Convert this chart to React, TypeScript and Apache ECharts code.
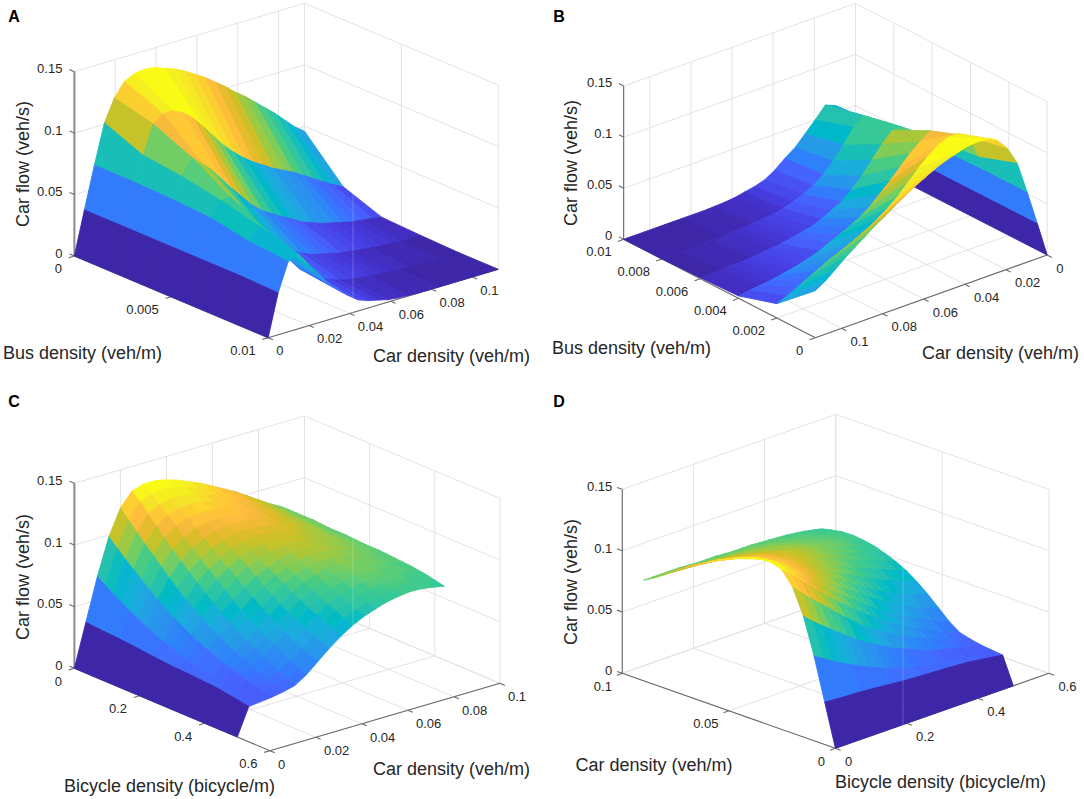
import React, { useEffect, useRef } from "react";
import * as echarts from "echarts";

// ---------- data ----------
const busDensity = [0, 0.002, 0.004, 0.006, 0.008, 0.01];
const carDensityBus = [0, 0.0049, 0.0098, 0.0147, 0.0196, 0.0245, 0.0294, 0.0343, 0.0392, 0.0441, 0.049, 0.0539, 0.0588, 0.0637, 0.0686, 0.0735, 0.0784, 0.0833, 0.0882, 0.0931, 0.098, 0.1029, 0.1078, 0.1127];
const flowBus0 = [0, .035, .069, .101, .119, .130, .134, .135, .134, .131, .128, .124, .119, .114, .108, .102, .095, .089, .082, .075, .068, .060, .052, .046];
const flowBus2 = [0, .035, .069, .088, .111, .117, .117, .113, .106, .097, .087, .077, .069, .062, .056, .051, .046, .042, .038, .033, .028, .023, .018, .014];
const flowBus4 = [0, .035, .068, .084, .097, .090, .082, .072, .062, .053, .044, .037, .032, .027, .023, .018, .015, .012, .010, .008, .006, .005, .004, .0024];
const flowBus6 = [0, .035, .066, .078, .078, .068, .056, .044, .034, .026, .021, .016, .012, .010, .008, .006, .005, .004, .003, .002, .002, .001, .001, .001];
const flowBus8 = [0, .035, .060, .070, .062, .048, .036, .026, .019, .014, .010, .007, .005, .004, .003, .002, .002, .001, .001, .001, 0, 0, 0, 0];
const flowBus10 = [0, .034, .057, .061, .050, .040, .030, .023, .015, .009, .006, .004, .002, .001, .0005, 0, 0, 0, 0, 0, 0, 0, 0, 0];
const busFlow = [flowBus0, flowBus2, flowBus4, flowBus6, flowBus8, flowBus10];

const bicycleDensity = [0, .025, .05, .075, .1, .125, .15, .175, .2, .225, .25, .275, .3, .325, .35, .375, .4, .425, .45, .475, .5];
const carDensityBike = [0, .005, .01, .015, .02, .025, .03, .035, .04, .045, .05, .055, .06, .065, .07, .075, .08, .085, .09];
const flowBike000 = [0, .0346, .069, .0986, .119, .130, .133, .133, .131, .128, .124, .120, .115, .110, .105, .099, .093, .087, .082];
const flowBike025 = [0, .034, .0645, .092, .112, .124, .128, .129, .128, .125, .122, .118, .114, .109, .104, .0985, .0925, .087, .082];
const flowBike050 = [0, .0335, .060, .086, .105, .117, .122, .124, .124, .122, .119, .116, .112, .108, .103, .098, .092, .087, .082];
const flowBike075 = [0, .0331, .056, .0805, .0985, .110, .116, .119, .120, .1185, .1165, .114, .1105, .1065, .102, .097, .0915, .0865, .082];
const flowBike100 = [0, .0327, .052, .075, .092, .103, .110, .114, .115, .115, .114, .112, .109, .105, .101, .096, .091, .086, .082];
const flowBike125 = [0, .0321, .0485, .0695, .0855, .0965, .104, .1085, .1105, .1115, .111, .1095, .107, .1035, .100, .0955, .0905, .0855, .0815];
const flowBike150 = [0, .0315, .045, .064, .079, .090, .098, .103, .106, .108, .108, .107, .105, .102, .099, .095, .090, .085, .081];
const flowBike175 = [0, .0308, .0418, .0595, .073, .084, .092, .0975, .1015, .104, .105, .1045, .103, .1005, .0975, .094, .0895, .085, .081];
const flowBike200 = [0, .0300, .0387, .055, .067, .078, .086, .092, .097, .100, .102, .102, .101, .099, .096, .093, .089, .085, .081];
const flowBike225 = [0, .0294, .0363, .051, .0625, .0725, .0805, .087, .0925, .096, .0985, .0995, .099, .0975, .0945, .092, .0885, .0845, .0805];
const flowBike250 = [0, .0288, .034, .047, .058, .067, .075, .082, .088, .092, .095, .097, .097, .096, .093, .091, .088, .084, .080];
const flowBike275 = [0, .0284, .032, .044, .0535, .062, .0695, .077, .083, .088, .0915, .094, .0945, .094, .092, .090, .087, .0835, .080];
const flowBike300 = [0, .0280, .030, .041, .049, .057, .064, .072, .078, .084, .088, .091, .092, .092, .091, .089, .086, .083, .080];
const flowBike325 = [0, .0276, .0285, .038, .0455, .0525, .0595, .067, .0735, .080, .0845, .088, .0895, .090, .089, .0875, .085, .0825, .0795];
const flowBike350 = [0, .0272, .027, .035, .042, .048, .055, .062, .069, .076, .081, .085, .087, .088, .087, .086, .084, .082, .079];
const flowBike375 = [0, .0267, .0258, .033, .039, .0445, .051, .058, .065, .0725, .078, .082, .0845, .086, .0855, .0845, .083, .081, .0785];
const flowBike400 = [0, .0262, .0245, .031, .036, .041, .047, .054, .061, .069, .075, .079, .082, .084, .084, .083, .082, .080, .078];
const flowBike425 = [0, .0252, .024, .029, .033, .0375, .0435, .0505, .058, .066, .072, .076, .079, .0815, .082, .0815, .0805, .079, .077];
const flowBike450 = [0, .0242, .0235, .027, .030, .034, .040, .047, .055, .063, .069, .073, .076, .079, .080, .080, .079, .078, .076];
const flowBike475 = [0, .0231, .0233, .0255, .0278, .031, .037, .0445, .0525, .060, .066, .0703, .0735, .0765, .0778, .0784, .0778, .0765, .0745];
const flowBike500 = [0, .0220, .023, .024, .0257, .028, .034, .042, .050, .057, .063, .0676, .071, .074, .0757, .0768, .0765, .075, .073];
const bikeFlow = [flowBike000, flowBike025, flowBike050, flowBike075, flowBike100, flowBike125, flowBike150, flowBike175, flowBike200, flowBike225, flowBike250, flowBike275, flowBike300, flowBike325, flowBike350, flowBike375, flowBike400, flowBike425, flowBike450, flowBike475, flowBike500];

const flowTicks = [0, 0.05, 0.1, 0.15];
const busTicksCoarse = [0, 0.005, 0.01];
const busTicksFine = [0, 0.002, 0.004, 0.006, 0.008, 0.01];
const carTicks = [0, 0.02, 0.04, 0.06, 0.08, 0.1];
const carTicksCoarse = [0, 0.05, 0.1];
const bicycleTicks = [0, 0.2, 0.4, 0.6];

// parula colormap
const parula = [[.2422,.1504,.6603],[.2504,.165,.7076],[.2578,.1818,.7511],[.2647,.1978,.7952],[.2706,.2147,.8364],[.2751,.2342,.871],[.2783,.2559,.8991],[.2803,.2782,.9221],[.2813,.3006,.9414],[.281,.3228,.9579],[.2795,.3447,.9717],[.276,.3667,.9829],[.2699,.3892,.9906],[.2602,.4123,.9952],[.244,.4358,.9988],[.2206,.4603,.9973],[.1963,.4847,.9892],[.1834,.5074,.9798],[.1786,.5289,.9682],[.1764,.5499,.952],[.1687,.5703,.9359],[.154,.5902,.9218],[.146,.6091,.9079],[.138,.6276,.8973],[.1248,.6459,.8883],[.1113,.6635,.8763],[.0952,.6798,.8598],[.0689,.6948,.8394],[.0297,.7082,.8163],[.0036,.7203,.7917],[.0067,.7312,.766],[.0433,.7411,.7394],[.0964,.75,.712],[.1408,.7584,.6842],[.1717,.767,.6554],[.1938,.7758,.6251],[.2161,.7843,.5923],[.247,.7918,.5567],[.2906,.7973,.5188],[.3406,.8008,.4789],[.3909,.8029,.4354],[.4456,.8024,.3909],[.5044,.7993,.348],[.5616,.7942,.3045],[.6174,.7876,.2612],[.672,.7793,.2227],[.7242,.7698,.191],[.7738,.7598,.1646],[.8203,.7498,.1535],[.8634,.7406,.1596],[.9035,.733,.1774],[.9393,.7288,.21],[.9728,.7298,.2394],[.9956,.7434,.2371],[.997,.7659,.2199],[.9952,.7893,.2028],[.9892,.8136,.1885],[.9786,.8386,.1766],[.9676,.8639,.1643],[.961,.889,.1537],[.9597,.9135,.1423],[.9628,.9373,.1265],[.9691,.9606,.1064],[.9769,.9839,.0805]];

// ---------- layout ----------
const SX = 0.346;
const SY = 1 / 3;
const FONT = '"Liberation Sans", Arial, sans-serif';
const TEXT = "#262626";
const GRID = "#e3e3e3";
const AXIS = "#6a6a6a";
const Z_MAX = 0.15;

type Panel = any;
const panels: Panel[] = [
  {
    letter: "A", ox: 0, oy: 0, h: 390,
    o: [215, 768], uVec: [560, 245], vVec: [665, -205], zVec: [0, -553],
    uVals: busDensity, vVals: carDensityBus, z: busFlow, uMax: 0.01, vMax: 0.1127,
    uTicks: busTicksCoarse, vTicks: carTicks,
    zAt: [0, 0], uAxisV: 0, vAxisU: 1, wallU: 0, wallV: 1, zTick: [-1, 0], zAxisW: 2,
    zOff: [-12, -2.7], uOff: [-12.5, 12.7], vOff: [8, 13],
    uTitle: { t: "Bus density (veh/m)", x: 3, y: 353 }, vTitle: { t: "Car density (veh/m)", x: 373, y: 356 }, zTitle: { x: 22.5, y: 164 },
    lx: 14, ly: 16, seam: 353,
  },
  {
    letter: "B", ox: 542, oy: 0, h: 390,
    o: [1460, 765], uVec: [-554, -295], vVec: [-670, 248], zVec: [0, -460],
    uVals: busDensity, vVals: carDensityBus, z: busFlow, uMax: 0.01, vMax: 0.1127,
    uTicks: busTicksFine, vTicks: carTicks,
    zAt: [1, 1], uAxisV: 1, vAxisU: 0, wallU: 1, wallV: 0, zTick: [1, 0], zAxisW: 1.1,
    zOff: [-11.4, -3.6], uOff: [-12, 12.5], vOff: [9, 13],
    uTitle: { t: "Bus density (veh/m)", x: 10, y: 348 }, vTitle: { t: "Car density (veh/m)", x: 380, y: 353 }, zTitle: { x: 29, y: 163 },
    lx: 17, ly: 16, seam: -1,
  },
  {
    letter: "C", ox: 0, oy: 390, h: 409,
    o: [215, 835], uVec: [565, 247], vVec: [665, -202], zVec: [0, -555],
    uVals: bicycleDensity, vVals: carDensityBike, z: bikeFlow, uMax: 0.6, vMax: 0.1,
    uTicks: bicycleTicks, vTicks: carTicks,
    zAt: [0, 0], uAxisV: 0, vAxisU: 1, wallU: 0, wallV: 1, zTick: [-1, 0], zAxisW: 2,
    zOff: [-12, -2.7], uOff: [-12.5, 13], vOff: [8, 13.5],
    uTitle: { t: "Bicycle density (bicycle/m)", x: 64, y: 396 }, vTitle: { t: "Car density (veh/m)", x: 373, y: 379 }, zTitle: { x: 22.5, y: 187 },
    lx: 14, ly: 11, seam: 353,
  },
  {
    letter: "D", ox: 542, oy: 390, h: 409,
    o: [848, 1075], uVec: [617, -225], vVec: [-616, -225], zVec: [0, -552],
    uVals: bicycleDensity, vVals: carDensityBike, z: bikeFlow, uMax: 0.6, vMax: 0.1,
    uTicks: bicycleTicks, vTicks: carTicksCoarse,
    zAt: [0, 1], uAxisV: 0, vAxisU: 0, wallU: 1, wallV: 1, zTick: [0, 1], zAxisW: 1.1,
    zOff: [-10, -2.5], uOff: [9.5, 13], vOff: [-10.4, 12.7],
    vLabelRight: true,
    uTitle: { t: "Bicycle density (bicycle/m)", x: 293, y: 392 }, vTitle: { t: "Car density (veh/m)", x: 33.5, y: 375 }, zTitle: { x: 29, y: 192 },
    lx: 17, ly: 11, seam: 361,
  },
];

function makeProjector(p: Panel) {
  return (u: number, v: number, z: number): number[] => {
    const a = u / p.uMax, b = v / p.vMax, c = z / Z_MAX;
    return [
      (p.o[0] + a * p.uVec[0] + b * p.vVec[0] + c * p.zVec[0]) * SX,
      (p.o[1] + a * p.uVec[1] + b * p.vVec[1] + c * p.zVec[1]) * SY,
    ];
  };
}

function colorOf(z: number, zMax: number) {
  const t = Math.max(0, Math.min(1, z / zMax));
  const c = parula[Math.round(t * (parula.length - 1))];
  return `rgb(${Math.round(c[0] * 255)},${Math.round(c[1] * 255)},${Math.round(c[2] * 255)})`;
}

function buildSeries(p: Panel, idx: number) {
  const proj = makeProjector(p);
  const common = { type: "custom", coordinateSystem: "cartesian2d", xAxisIndex: idx, yAxisIndex: idx, clip: false, silent: true, animation: false, encode: { x: 0, y: 1 } };
  const U = p.uMax, V = p.vMax;
  const uLines = Array.from(new Set([...p.uTicks, U, 0])) as number[];
  const vLines = Array.from(new Set([...p.vTicks, V, 0])) as number[];
  const zLines = flowTicks;
  const wallU = p.wallU * U, wallV = p.wallV * V;

  // light grid on the two back walls and the floor: [u1,v1,z1,u2,v2,z2]
  const grid: number[][] = [];
  zLines.forEach((z) => {
    grid.push([wallU, 0, z, wallU, V, z]);
    grid.push([0, wallV, z, U, wallV, z]);
  });
  vLines.forEach((v) => {
    grid.push([wallU, v, 0, wallU, v, Z_MAX]);
    grid.push([0, v, 0, U, v, 0]);
  });
  uLines.forEach((u) => {
    grid.push([u, wallV, 0, u, wallV, Z_MAX]);
    grid.push([u, 0, 0, u, V, 0]);
  });

  // dark axis lines and tick marks
  const axisZ = [p.zAt[0] * U, p.zAt[1] * V];
  const uAxisV = p.uAxisV * V, vAxisU = p.vAxisU * U;
  const uOut = p.uAxisV === 0 ? -1 : 1, vOut = p.vAxisU === 0 ? -1 : 1;
  const axes: number[][] = [
    [axisZ[0], axisZ[1], 0, axisZ[0], axisZ[1], Z_MAX],
    [0, uAxisV, 0, U, uAxisV, 0],
    [vAxisU, 0, 0, vAxisU, V, 0],
  ];
  const TL = 0.025;
  flowTicks.forEach((z) => axes.push([axisZ[0], axisZ[1], z, axisZ[0] + p.zTick[0] * TL * U, axisZ[1] + p.zTick[1] * TL * V, z]));
  p.uTicks.forEach((u: number) => axes.push([u, uAxisV, 0, u, uAxisV + uOut * TL * V, 0]));
  p.vTicks.forEach((v: number) => axes.push([vAxisU, v, 0, vAxisU + vOut * TL * U, v, 0]));

  const segRender = (stroke: string, lineWidth: number, firstWidth: number) => (params: any, api: any) => {
    const a = api.coord(proj(api.value(0), api.value(1), api.value(2)));
    const b = api.coord(proj(api.value(3), api.value(4), api.value(5)));
    const isZ = params.dataIndex === 0 && firstWidth > lineWidth;
    return { type: "line", shape: { x1: a[0], y1: a[1], x2: b[0], y2: b[1] }, style: { stroke: isZ ? "#8c8c8c" : stroke, lineWidth: isZ ? firstWidth : lineWidth, fill: "none" } };
  };

  // surface cells, back to front
  const zAll: number[] = p.z.flat();
  const zTop = Math.max(...zAll);
  const cells: number[][] = [];
  for (let i = 0; i < p.uVals.length - 1; i++) {
    for (let j = 0; j < p.vVals.length - 1; j++) {
      cells.push([p.uVals[i], p.vVals[j], p.uVals[i + 1], p.vVals[j + 1], p.z[i][j], p.z[i][j + 1], p.z[i + 1][j + 1], p.z[i + 1][j]]);
    }
  }
  const depth = (c: number[]) => proj((c[0] + c[2]) / 2, (c[1] + c[3]) / 2, 0)[1];
  cells.sort((a, b) => depth(a) - depth(b));

  const cellRender = (_: any, api: any) => {
    const u0 = api.value(0), v0 = api.value(1), u1 = api.value(2), v1 = api.value(3);
    const z00 = api.value(4), z01 = api.value(5), z11 = api.value(6), z10 = api.value(7);
    const points = [proj(u0, v0, z00), proj(u0, v1, z01), proj(u1, v1, z11), proj(u1, v0, z10)].map((q) => api.coord(q));
    const fill = colorOf(z00, zTop);
    return { type: "polygon", shape: { points }, style: { fill, stroke: fill, lineWidth: 0.9, lineJoin: "round" } };
  };

  // tick labels: [u,v,z,kind]
  const labelData: number[][] = [];
  flowTicks.forEach((z) => labelData.push([axisZ[0], axisZ[1], z, 0]));
  p.uTicks.forEach((u: number) => labelData.push([u, uAxisV, 0, 1]));
  p.vTicks.forEach((v: number) => labelData.push([vAxisU, v, 0, 2]));
  const labelRender = (_: any, api: any) => {
    const u = api.value(0), v = api.value(1), z = api.value(2), kind = api.value(3);
    const q = api.coord(proj(u, v, z));
    const off = kind === 0 ? p.zOff : kind === 1 ? p.uOff : p.vOff;
    const rightAligned = kind === 0 || (kind === 1 && p.letter !== "D") || (kind === 2 && p.vLabelRight);
    const value = kind === 0 ? z : kind === 1 ? u : v;
    return {
      type: "text", x: q[0] + off[0], y: q[1] + off[1],
      style: { text: String(value), fill: TEXT, font: `13px ${FONT}`, align: rightAligned ? "right" : "left", verticalAlign: "middle" },
    };
  };

  return [
    { ...common, name: `${p.letter}-grid`, data: grid, renderItem: segRender(GRID, 1, 0), z: 1 },
    { ...common, name: `${p.letter}-axes`, data: axes, renderItem: segRender(AXIS, 1.1, p.zAxisW), z: 2 },
    { ...common, name: `${p.letter}-surface`, data: cells, renderItem: cellRender, z: 3 },
    { ...common, name: `${p.letter}-labels`, data: labelData, renderItem: labelRender, z: 4 },
  ];
}

function buildOption() {
  const graphic: any[] = [];
  panels.forEach((p) => {
    graphic.push({ type: "text", x: p.ox + p.lx, y: p.oy + p.ly, z: 10, style: { text: p.letter, fill: "#000", font: `bold 16px ${FONT}`, align: "center", verticalAlign: "middle" } });
    [p.uTitle, p.vTitle].forEach((t: any) =>
      graphic.push({ type: "text", x: p.ox + t.x, y: p.oy + t.y, z: 10, style: { text: t.t, fill: TEXT, font: `18px ${FONT}`, align: "left", verticalAlign: "middle" } })
    );
    graphic.push({
      type: "text", x: p.ox + p.zTitle.x, y: p.oy + p.zTitle.y, rotation: Math.PI / 2, z: 10,
      style: { text: "Car flow (veh/s)", fill: TEXT, font: `18px ${FONT}`, align: "center", verticalAlign: "middle" },
    });
    if (p.seam > 0) {
      graphic.push({ type: "line", z: 9, shape: { x1: p.ox + p.seam, y1: p.oy + 60, x2: p.ox + p.seam, y2: p.oy + 340 }, style: { stroke: "rgba(255,255,255,0.22)", lineWidth: 1 } });
    }
  });
  return {
    animation: false,
    backgroundColor: "#ffffff",
    grid: panels.map((p) => ({ left: p.ox, top: p.oy, width: 542, height: p.h, containLabel: false })),
    xAxis: panels.map((_, i) => ({ type: "value", gridIndex: i, min: 0, max: 542, show: false })),
    yAxis: panels.map((p, i) => ({ type: "value", gridIndex: i, min: 0, max: p.h, inverse: true, show: false })),
    series: panels.flatMap((p, i) => buildSeries(p, i)),
    graphic,
  };
}

export default function App() {
  const ref = useRef<HTMLDivElement>(null);
  useEffect(() => {
    document.body.style.margin = "0";
    const chart = echarts.init(ref.current!, undefined, { renderer: "svg" });
    chart.setOption(buildOption() as any);
    return () => chart.dispose();
  }, []);
  return <div ref={ref} style={{ width: 1084, height: 799 }} />;
}
